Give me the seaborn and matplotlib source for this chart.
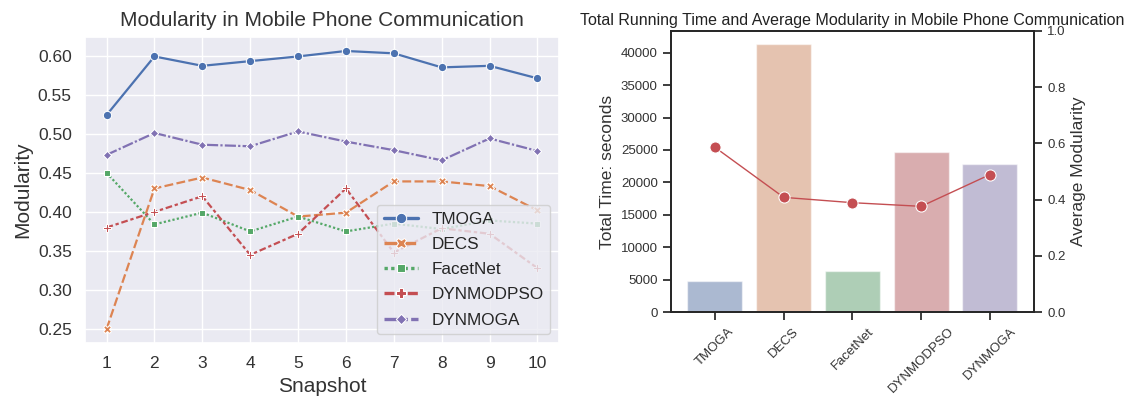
import numpy as np
import pandas as pd
import matplotlib
matplotlib.use("Agg")
import matplotlib.pyplot as plt
import seaborn as sns

# ---- data ----
snapshots = [1, 2, 3, 4, 5, 6, 7, 8, 9, 10]
methods = ["TMOGA", "DECS", "FacetNet", "DYNMODPSO", "DYNMOGA"]
tmoga = [0.524, 0.599, 0.587, 0.593, 0.599, 0.606, 0.603, 0.585, 0.587, 0.571]
decs = [0.250, 0.430, 0.444, 0.428, 0.394, 0.399, 0.439, 0.439, 0.433, 0.402]
facetnet = [0.450, 0.384, 0.399, 0.375, 0.394, 0.375, 0.385, 0.378, 0.389, 0.385]
dynmodpso = [0.380, 0.400, 0.420, 0.345, 0.372, 0.430, 0.348, 0.379, 0.372, 0.328]
dynmoga = [0.473, 0.501, 0.486, 0.484, 0.503, 0.490, 0.479, 0.466, 0.494, 0.478]

run_time = [4750, 41300, 6320, 24650, 22880]
avg_modularity = [0.586, 0.408, 0.389, 0.376, 0.489]

series = [tmoga, decs, facetnet, dynmodpso, dynmoga]
df = pd.DataFrame({
    "Snapshot": snapshots * len(methods),
    "Modularity": [v for s in series for v in s],
    "Method": [m for m in methods for _ in snapshots],
})
df_bar = pd.DataFrame({"Method": methods, "Time": run_time, "Avg": avg_modularity})

FONT = ["Liberation Sans", "DejaVu Sans"]

sns.set_context("notebook")
fig = plt.figure(figsize=(11.29, 4.03), dpi=100)

# ---- left panel ----
with sns.axes_style("darkgrid"):
    plt.rcParams["font.family"] = FONT
    ax1 = fig.add_axes([0.0753, 0.149, 0.4198, 0.759])
    sns.lineplot(data=df, x="Snapshot", y="Modularity", hue="Method",
                 style="Method", markers=True, hue_order=methods,
                 style_order=methods, palette="deep", ax=ax1,
                 linewidth=1.6, markersize=6)
    ax1.set_xticks(snapshots)
    ax1.set_title("Modularity in Mobile Phone Communication", fontsize=15,
                  color="#333333", pad=8)
    ax1.set_xlabel("Snapshot", fontsize=15, color="#333333")
    ax1.set_ylabel("Modularity", fontsize=15, color="#333333")
    ax1.tick_params(labelsize=12.5, labelcolor="#333333")
    leg = ax1.legend(loc="lower right", fontsize=12.3, markerscale=1.25,
                     handlelength=2.0, labelspacing=0.6)
    for h in leg.get_lines():
        h.set_linewidth(2.4)

# ---- right panel ----
with sns.axes_style("ticks"):
    plt.rcParams["font.family"] = FONT
    ax2 = fig.add_axes([0.5943, 0.2258, 0.3215, 0.6973])
    sns.barplot(data=df_bar, x="Method", y="Time", hue="Method",
                palette="deep", alpha=0.5, ax=ax2, legend=False,
                order=methods)
    ax2.set_xlabel("")
    ax2.set_ylabel("Total Time: seconds", fontsize=12.5, color="#333333")
    ax2.tick_params(labelsize=9.5, labelcolor="#333333")
    ax2.tick_params(axis="x", labelrotation=45)
    for lab in ax2.get_xticklabels():
        lab.set_ha("center")
    ax2.set_title("Total Running Time and Average Modularity in Mobile Phone Communication",
                  fontsize=11.5, color="#222222", pad=4)
    ax3 = ax2.twinx()
    sns.lineplot(data=df_bar, x="Method", y="Avg", marker="o", color="#C44E52",
                 linewidth=1, markersize=8, ax=ax3)
    ax3.set_ylim(0, 1.0)
    ax3.set_ylabel("Average Modularity", fontsize=12.5, color="#333333")
    ax3.tick_params(labelsize=9.5, labelcolor="#333333")

fig.savefig("out.png", dpi=100)
